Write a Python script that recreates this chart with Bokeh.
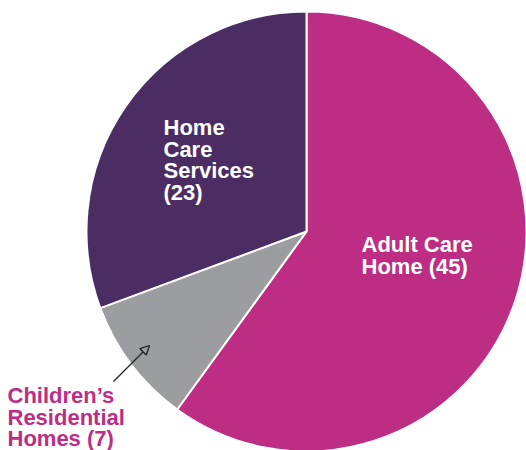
import math
from bokeh.plotting import figure
from bokeh.models import Range1d, Arrow, NormalHead, ColumnDataSource
from bokeh.core.properties import value
from bokeh.embed import file_html
from bokeh.resources import INLINE

# Data
categories = ["Adult Care Home", "Children's Residential Homes", "Home Care Services"]
counts = [45, 7, 23]
colors = ["#BD2D84", "#9C9DA0", "#4B2D63"]

# Label lines
adult_lines = ["Adult Care", "Home (45)"]
children_lines = ["Children\u2019s", "Residential", "Homes (7)"]
homecare_lines = ["Home", "Care", "Services", "(23)"]

W, H = 526, 450
p = figure(width=W, height=H, output_backend="svg", toolbar_location=None,
           x_range=Range1d(0, W), y_range=Range1d(-H, 0),
           min_border=0)
p.axis.visible = False
p.grid.visible = False
p.outline_line_color = None
p.background_fill_color = "white"

cx, cy, r = 306, -231, 220
total = sum(counts)
starts, ends = [], []
a = math.pi / 2
for c in counts:
    span = 2 * math.pi * c / total
    starts.append(a)
    ends.append(a - span)
    a -= span

src = ColumnDataSource(dict(start=starts, end=ends, color=colors))
p.wedge(x=cx, y=cy, radius=r, radius_units="data", start_angle="start",
        end_angle="end", direction="clock", fill_color="color",
        line_color="white", line_width=2, source=src)

font = value("Liberation Sans")
fs = "22px"
lh = 21.7

def put(lines, x, y0, color):
    ys = [y0 - i * lh for i in range(len(lines))]
    p.text(x=[x] * len(lines), y=ys, text=lines, text_font=font,
           text_font_size=fs, text_font_style="bold", text_color=color,
           text_baseline="alphabetic", text_align="left")

put(adult_lines, 361, -244, "white")
put(homecare_lines, 163, -127, "white")
put(children_lines, 7, -395, "#BD2D84")

p.add_layout(Arrow(x_start=113, y_start=-381, x_end=149, y_end=-345,
                   line_color="#222222", line_width=1.3,
                   end=NormalHead(size=9, fill_color=None, line_color="#222222", line_width=1.3)))

open("out.html", "w").write(file_html(p, INLINE))
